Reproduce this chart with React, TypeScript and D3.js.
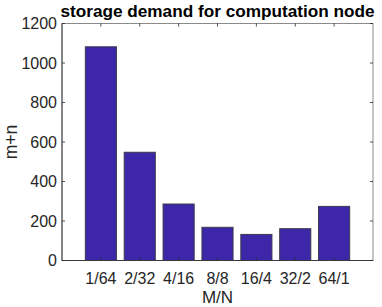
import React from "react";
import * as d3 from "d3";

const categories = ["1/64", "2/32", "4/16", "8/8", "16/4", "32/2", "64/1"];
const values = [1082, 548, 286, 168, 132, 161, 274];
const yTicks = [0, 200, 400, 600, 800, 1000, 1200];

const W = 382, H = 307;
const m = { left: 62, right: 9, top: 23.5, bottom: 46.5 };

export default function App() {
  const x0 = m.left, x1 = W - m.right, y0 = H - m.bottom, y1 = m.top;
  const x = d3.scaleLinear().domain([0, categories.length + 1]).range([x0, x1]);
  const y = d3.scaleLinear().domain([0, 1200]).range([y0, y1]);
  const bw = x(0.8) - x(0);
  const font = "'Liberation Sans', Arial, sans-serif";
  const axisColor = "#262626";
  const tl = 3;
  return (
    <svg width={W} height={H} style={{ position: "absolute", left: 0, top: 0, background: "#fff" }}>
      {values.map((v, i) => (
        <rect key={i} x={x(i + 1) - bw / 2} y={y(v)} width={bw} height={y(0) - y(v)}
          fill="#3d26a8" stroke="#3a3a4a" strokeWidth={1} />
      ))}
      <rect x={x0} y={y1} width={x1 - x0} height={y0 - y1} fill="none" stroke="#8a8a8a" strokeWidth={1} />
      <line x1={x0} x2={x1} y1={y0} y2={y0} stroke={axisColor} strokeWidth={0.8} />
      <line x1={x0} x2={x0} y1={y0} y2={y1} stroke={axisColor} strokeWidth={0.8} />
      {yTicks.map((t) => (
        <g key={t}>
          <line x1={x0} x2={x0 + tl} y1={y(t)} y2={y(t)} stroke={axisColor} strokeWidth={0.8} />
          <line x1={x1} x2={x1 - tl} y1={y(t)} y2={y(t)} stroke={axisColor} strokeWidth={0.8} />
          <text x={x0 - 5} y={y(t) + 5.5} textAnchor="end" fontFamily={font} fontSize={16} fill="#262626">{t}</text>
        </g>
      ))}
      {categories.map((c, i) => (
        <g key={c}>
          <line x1={x(i + 1)} x2={x(i + 1)} y1={y0} y2={y0 - tl} stroke={axisColor} strokeWidth={0.8} />
          <line x1={x(i + 1)} x2={x(i + 1)} y1={y1} y2={y1 + tl} stroke={axisColor} strokeWidth={0.8} />
          <text x={x(i + 1)} y={y0 + 23.5} textAnchor="middle" fontFamily={font} fontSize={16} fill="#262626">{c}</text>
        </g>
      ))}
      <text x={(x0 + x1) / 2} y={303} textAnchor="middle" fontFamily={font} fontSize={17} fill="#262626">M/N</text>
      <text transform={`translate(17,${(y0 + y1) / 2}) rotate(-90)`} textAnchor="middle" fontFamily={font} fontSize={17.6} fill="#262626">m+n</text>
      <text x={(x0 + x1) / 2} y={16.5} textAnchor="middle" fontFamily={font} fontSize={17.2} fontWeight="bold" fill="#000">storage demand for computation node</text>
    </svg>
  );
}
